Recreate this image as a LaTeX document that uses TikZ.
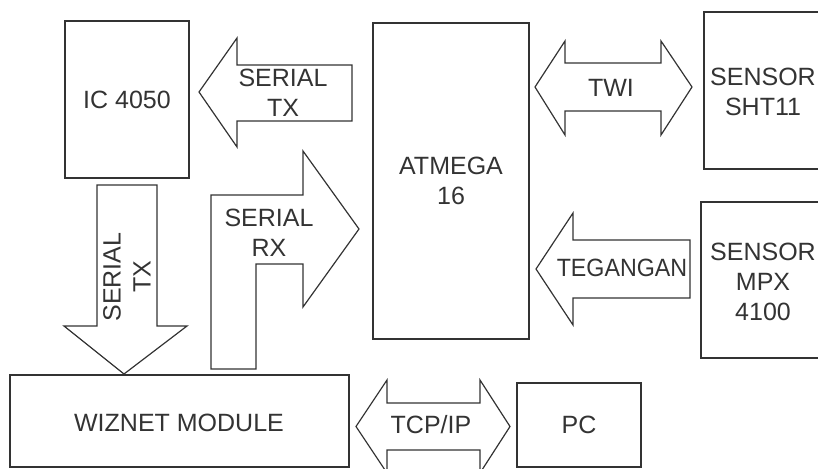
\documentclass[tikz,border=0pt]{standalone}
\usepackage{fontspec}
\setmainfont{Liberation Sans}
\usepackage{graphicx}
\usepackage{tikz}
\usetikzlibrary{positioning,calc}
\definecolor{garis}{rgb}{0.2,0.2,0.2}

\begin{document}
\begin{tikzpicture}[x=1pt,y=-1pt,
    blok/.style={rectangle,draw=garis,line width=1.2pt,align=center,inner sep=0pt,text=garis},
    panah/.style={draw=garis,line width=1.2pt,line join=miter},
    teks/.style={align=center,inner sep=0pt,text=garis}]
    \useasboundingbox (0,0) rectangle (818,468);
    \clip (0,0) rectangle (818,468);
    \fontsize{25}{30}\selectfont

    % Blocks
    \node[blok,minimum width=124,minimum height=157] (ic) at (127,99.5) {IC 4050};
    \node[blok,minimum width=156,minimum height=316] (atmega) at (451,181) {ATMEGA\\16};
    \node[blok,minimum width=121,minimum height=157] (sht) at (764.5,90.5) {};
    \node[blok,minimum width=124,minimum height=156] (mpx) at (763,280) {};
    \node[blok,minimum width=339,minimum height=92] (wiznet) at (179.5,421) {};
    \node[blok,minimum width=124,minimum height=84] (pc) at (579,425) {};

    % Block texts
    \node[teks] (shttxt) at (763,91.5) {SENSOR\\SHT11};
    \node[teks] (mpxtxt) at (763,281.5) {SENSOR\\MPX\\4100};
    \node[teks] (wiztxt) at (179,423) {WIZNET MODULE};
    \node[teks] (pctxt) at (579,425) {PC};

    % Serial TX (ATMEGA to IC 4050)
    \draw[panah] (199,92) -- (237,38) -- (237,65) -- (352,65) -- (352,121)
        -- (237,121) -- (237,147) -- cycle;
    \node[teks] (txa) at (283,92.5) {SERIAL\\TX};

    % Serial RX (to ATMEGA)
    \draw[panah] (211,369) -- (211,195) -- (303,195) -- (303,151) -- (359,229)
        -- (303,307) -- (303,264) -- (256,264) -- (256,369) -- cycle;
    \node[teks] (rx) at (269,232.5) {SERIAL\\RX};

    % Serial TX (IC 4050 to WIZNET)
    \draw[panah] (97,185) -- (157,185) -- (157,326) -- (187,326) -- (124,374)
        -- (64,326) -- (97,326) -- cycle;
    \node[teks,rotate=90] (txb) at (127,277) {SERIAL\\TX};

    % TWI
    \draw[panah] (535,87) -- (565,41) -- (565,63) -- (661,63) -- (661,41) -- (692,87)
        -- (661,135) -- (661,111) -- (565,111) -- (565,135) -- cycle;
    \node[teks] (twi) at (611,88) {TWI};

    % Tegangan
    \draw[panah] (536,269) -- (573,213) -- (573,240) -- (690,240) -- (690,298)
        -- (573,298) -- (573,325) -- cycle;
    \node[teks] (teg) at (622,268) {\scalebox{0.93}[1]{TEGANGAN}};

    % TCP/IP
    \draw[panah] (356,426.5) -- (387,380) -- (387,403) -- (480,403) -- (480,380) -- (510,426.5)
        -- (480,473) -- (480,450) -- (387,450) -- (387,473) -- cycle;
    \node[teks] (tcp) at (431,425) {TCP/IP};
\end{tikzpicture}
\end{document}
